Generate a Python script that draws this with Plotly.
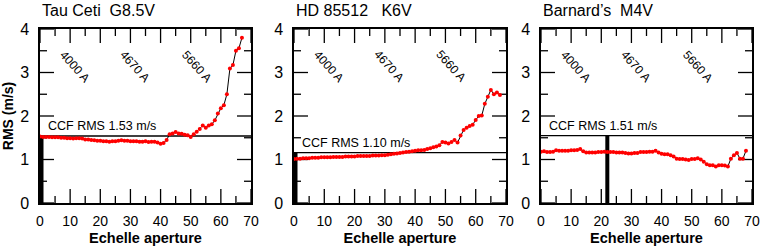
import plotly.graph_objects as go

# ---------------- data ----------------
titles = ["Tau Ceti\u00a0\u00a0G8.5V", "HD 85512\u00a0\u00a0 K6V", "Barnard\u2019s\u00a0 M4V"]
ccf_labels = ["CCF RMS 1.53 m/s", "CCF RMS 1.10 m/s", "CCF RMS 1.51 m/s"]
ccf_levels = [1.54, 1.16, 1.55]
bar_x = [0, 0, 22]

tau_x = list(range(0, 68))
tau_rms = [1.53, 1.52, 1.52, 1.52, 1.51, 1.51, 1.51, 1.50, 1.50, 1.49,
           1.49, 1.48, 1.49, 1.49, 1.48, 1.46, 1.46, 1.45, 1.44, 1.43,
           1.43, 1.42, 1.42, 1.41, 1.42, 1.42, 1.43, 1.44, 1.43, 1.43,
           1.42, 1.42, 1.42, 1.41, 1.41, 1.42, 1.40, 1.41, 1.41, 1.39,
           1.36, 1.38, 1.45, 1.58, 1.60, 1.63, 1.60, 1.59, 1.57, 1.56,
           1.52, 1.58, 1.64, 1.70, 1.78, 1.73, 1.78, 1.81, 1.90, 2.06,
           2.18, 2.25, 2.50, 3.09, 3.17, 3.50, 3.56, 3.80]

hd_x = list(range(0, 69))
hd_rms = [1.01, 1.02, 1.02, 1.03, 1.03, 1.03, 1.04, 1.04, 1.04, 1.05,
          1.05, 1.05, 1.05, 1.06, 1.06, 1.06, 1.06, 1.07, 1.07, 1.07,
          1.07, 1.08, 1.08, 1.08, 1.08, 1.08, 1.09, 1.09, 1.09, 1.10,
          1.10, 1.11, 1.12, 1.13, 1.14, 1.15, 1.16, 1.17, 1.18, 1.19,
          1.20, 1.21, 1.21, 1.22, 1.24, 1.26, 1.28, 1.30, 1.33, 1.40,
          1.39, 1.37, 1.40, 1.45, 1.39, 1.55, 1.68, 1.73, 1.77, 1.80,
          1.91, 2.00, 2.01, 2.28, 2.44, 2.60, 2.50, 2.54, 2.48]

gj_x = list(range(0, 69))
gj_rms = [1.18, 1.19, 1.17, 1.17, 1.18, 1.21, 1.20, 1.20, 1.20, 1.20,
          1.21, 1.21, 1.22, 1.24, 1.19, 1.16, 1.16, 1.16, 1.16, 1.17,
          1.17, 1.18, 1.17, 1.17, 1.17, 1.16, 1.16, 1.16, 1.15, 1.14,
          1.14, 1.15, 1.15, 1.17, 1.17, 1.17, 1.18, 1.18, 1.20, 1.16,
          1.13, 1.12, 1.12, 1.10, 1.07, 1.02, 1.01, 1.01, 1.00, 0.99,
          1.01, 1.01, 1.03, 1.00, 0.95, 0.89, 0.87, 0.87, 0.84, 0.87,
          0.87, 0.86, 0.84, 1.02, 1.10, 1.15, 1.02, 1.02, 1.20]

wl_labels = ["4000 A", "4670 A", "5660 A"]
wl_x = [11.3, 31.3, 51.8]
wl_y = 3.14

x_major = [0, 10, 20, 30, 40, 50, 60, 70]
x_minor = [5, 15, 25, 35, 45, 55, 65]
y_major = [0, 1, 2, 3, 4]
y_minor = [0.5, 1.5, 2.5, 3.5]

series_x = [tau_x, hd_x, gj_x]
series_y = [tau_rms, hd_rms, gj_rms]

# ---------------- layout geometry ----------------
W, H = 763, 249
x_dom_px = [(40, 251), (294, 506), (541, 752)]
y_dom_px = (29, 203)
X_RANGE, Y_RANGE = (0, 70), (0, 4)
FONT = "Liberation Sans, Arial, Helvetica, sans-serif"
MAJ, MIN = 14, 7  # tick lengths in px

fig = go.Figure()
layout = dict(
    width=W, height=H, margin=dict(l=0, r=0, t=0, b=0),
    paper_bgcolor="white", plot_bgcolor="white", showlegend=False,
    font=dict(family=FONT, color="black"),
)
annotations = []
ydom = [1 - y_dom_px[1] / H, 1 - y_dom_px[0] / H]
ph = y_dom_px[1] - y_dom_px[0]

for i in range(3):
    n = i + 1
    xa = "x" if n == 1 else f"x{n}"
    ya = "y" if n == 1 else f"y{n}"
    xk = "xaxis" if n == 1 else f"xaxis{n}"
    yk = "yaxis" if n == 1 else f"yaxis{n}"
    x0, x1 = x_dom_px[i]
    pw = x1 - x0
    layout[xk] = dict(
        domain=[x0 / W, x1 / W], anchor=ya, range=list(X_RANGE), automargin=False,
        tickvals=x_major, ticktext=[str(v) for v in x_major], ticks="",
        showline=True, linecolor="black", linewidth=1.5, mirror=True,
        showgrid=False, zeroline=False, ticklabelstandoff=4,
        tickfont=dict(size=14, family=FONT, color="black"),
        title=dict(text="<b>Echelle aperture</b>", font=dict(size=14.5, family=FONT, color="black"), standoff=5),
    )
    layout[yk] = dict(
        domain=ydom, anchor=xa, range=list(Y_RANGE), automargin=False,
        tickvals=y_major, ticktext=[str(v) for v in y_major], ticks="", ticklabelstandoff=6,
        showline=True, linecolor="black", linewidth=1.5, mirror=True,
        showgrid=False, zeroline=False,
        tickfont=dict(size=16, family=FONT, color="black"),
    )
    if n == 1:
        layout[yk]["title"] = dict(text="<b>RMS (m/s)</b>", font=dict(size=14, family=FONT, color="black"), standoff=6)

    # tick marks (inside, mirrored) as a line trace on the axes' scales
    ux = (X_RANGE[1] - X_RANGE[0]) / pw   # data units per px
    uy = (Y_RANGE[1] - Y_RANGE[0]) / ph
    tx, ty = [], []
    for v, ln in [(v, MAJ) for v in x_major] + [(v, MIN) for v in x_minor]:
        d = ln * uy
        tx += [v, v, None, v, v, None]
        ty += [Y_RANGE[0], Y_RANGE[0] + d, None, Y_RANGE[1], Y_RANGE[1] - d, None]
    for v, ln in [(v, MAJ) for v in y_major] + [(v, MIN) for v in y_minor]:
        d = ln * ux
        tx += [X_RANGE[0], X_RANGE[0] + d, None, X_RANGE[1], X_RANGE[1] - d, None]
        ty += [v, v, None, v, v, None]
    fig.add_trace(go.Scatter(x=tx, y=ty, mode="lines", line=dict(color="black", width=1.3),
                             xaxis=xa, yaxis=ya, hoverinfo="skip", connectgaps=False))

    # CCF level line
    fig.add_trace(go.Scatter(x=list(X_RANGE), y=[ccf_levels[i]] * 2, mode="lines",
                             line=dict(color="black", width=1.3), xaxis=xa, yaxis=ya, hoverinfo="skip"))
    # thick vertical bar
    fig.add_trace(go.Scatter(x=[bar_x[i], bar_x[i]], y=[0, ccf_levels[i]], mode="lines",
                             line=dict(color="black", width=4 if bar_x[i] else 7), xaxis=xa, yaxis=ya, hoverinfo="skip"))
    # data
    fig.add_trace(go.Scatter(x=series_x[i], y=series_y[i], mode="lines+markers",
                             line=dict(color="black", width=1),
                             marker=dict(color="red", size=4, line=dict(width=0)),
                             xaxis=xa, yaxis=ya))

    # CCF text
    annotations.append(dict(x=2.0, y=ccf_levels[i], xref=xa, yref=ya, text=ccf_labels[i],
                            showarrow=False, xanchor="left", yanchor="bottom", yshift=1,
                            font=dict(size=12.5, family=FONT, color="black")))
    # wavelength labels
    for lab, wx in zip(wl_labels, wl_x):
        annotations.append(dict(x=wx, y=wl_y, xref=xa, yref=ya, text=lab, showarrow=False,
                                textangle=48, xanchor="center", yanchor="middle",
                                font=dict(size=12, family=FONT, color="black")))
    # panel title
    annotations.append(dict(x=x0 / W, y=1 - 11 / H, xref="paper", yref="paper", text=titles[i],
                            showarrow=False, xanchor="left", yanchor="middle",
                            font=dict(size=16, family=FONT, color="black")))

layout["annotations"] = annotations
fig.update_layout(**layout)
fig.write_html("out.html", config={"displayModeBar": False},
               post_script="document.body.style.margin='0';document.body.style.overflow='hidden';")
